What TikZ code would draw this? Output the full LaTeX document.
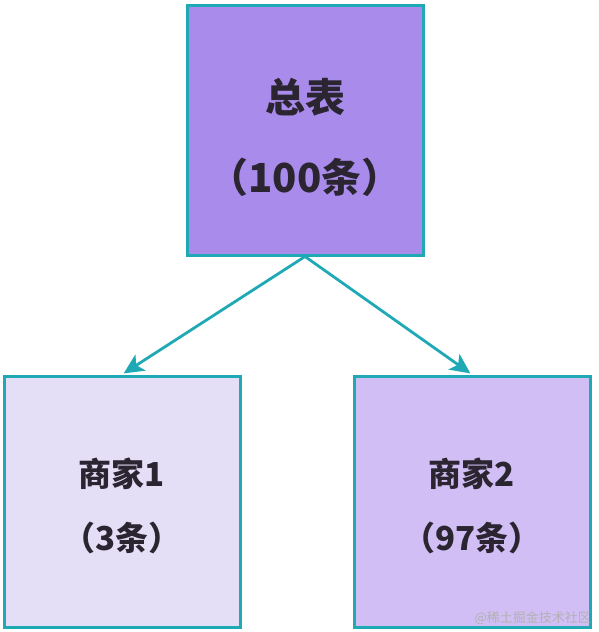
\documentclass[tikz,border=0pt]{standalone}
\usepackage{fontspec}
\newfontfamily\cjk{Noto Sans CJK SC}
\usetikzlibrary{arrows.meta}
\definecolor{tealline}{HTML}{1FA9B5}
\definecolor{topfill}{HTML}{A98BEC}
\definecolor{leftfill}{HTML}{E4DEF7}
\definecolor{rightfill}{HTML}{D0BEF4}
\definecolor{txt}{HTML}{2A2530}
\tikzset{
  box/.style={draw=tealline, line width=3pt, minimum width=236pt, inner sep=0pt},
  lbl/.style={align=center, text=txt, inner sep=0pt},
  conn/.style={draw=tealline, line width=2.8pt, -{Stealth[length=20pt,width=19pt,inset=5pt]}, shorten >=2pt},
}
\begin{document}
\begin{tikzpicture}[x=1pt,y=-1pt]
\useasboundingbox (0,0) rectangle (598,632);
\node[box, fill=topfill, minimum height=250pt] (top) at (305,130) {};
\node[box, fill=leftfill, minimum height=251pt] (left) at (122,501.5) {};
\node[box, fill=rightfill, minimum height=251pt] (right) at (472,501.5) {};
\node[lbl, font=\cjk\bfseries\fontsize{40}{80}\selectfont] (topT) at (305,137) {总表\\（100条）};
\node[lbl, font=\cjk\bfseries\fontsize{33}{64}\selectfont] (leftT) at (122,506) {商家1\\（3条）};
\node[lbl, font=\cjk\bfseries\fontsize{33}{64}\selectfont] (rightT) at (472,506) {商家2\\（97条）};
\draw[conn] (top.south) -- (left.north);
\draw[conn] (top.south) -- (right.north);
\node[anchor=east, text=black!30, font=\cjk\fontsize{13}{13}\selectfont, inner sep=0pt] (wm) at (591,618) {@稀土掘金技术社区};
\end{tikzpicture}
\end{document}
